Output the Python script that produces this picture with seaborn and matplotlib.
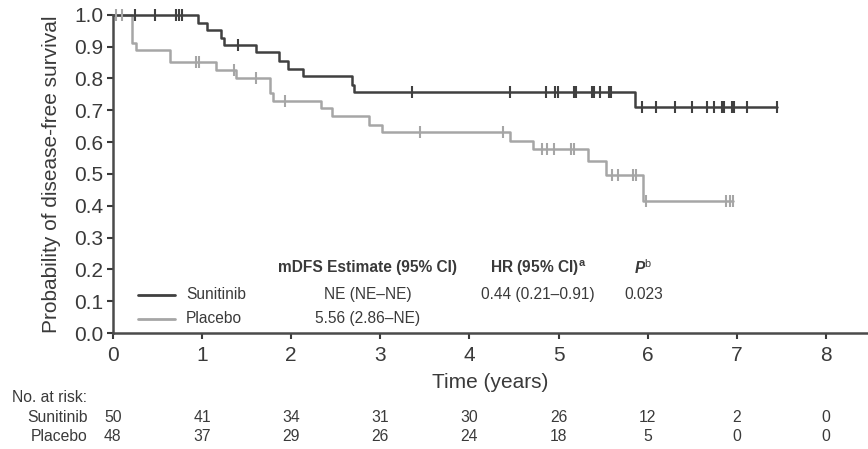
import numpy as np
import pandas as pd
import matplotlib
matplotlib.use('Agg')
import matplotlib.pyplot as plt
import matplotlib.transforms as mtransforms
import seaborn as sns

# step data: event time -> survival after the drop
sun_times = [0, 0.96, 1.06, 1.21, 1.25, 1.61, 1.86, 1.96, 2.13, 2.68, 2.71, 5.86, 7.45]
sun_surv = [1.0, 0.975, 0.952, 0.928, 0.906, 0.882, 0.856, 0.831, 0.807, 0.781, 0.759, 0.709, 0.709]
sun_cens = [0.25, 0.47, 0.71, 0.74, 0.78, 1.40, 3.36, 4.46, 4.86, 4.96, 4.99, 5.17, 5.20,
            5.37, 5.40, 5.46, 5.56, 5.59, 5.93, 6.09, 6.31, 6.50, 6.66, 6.74, 6.83, 6.85,
            6.94, 6.97, 7.11, 7.45]

pla_times = [0, 0.22, 0.26, 0.64, 1.16, 1.38, 1.76, 1.80, 2.34, 2.46, 2.87, 3.02, 4.46,
             4.71, 5.33, 5.53, 5.95, 6.96]
pla_surv = [1.0, 0.913, 0.89, 0.851, 0.826, 0.801, 0.753, 0.729, 0.707, 0.681, 0.655, 0.631,
            0.605, 0.577, 0.542, 0.496, 0.415, 0.415]
pla_cens = [0.03, 0.10, 0.93, 0.97, 1.36, 1.61, 1.93, 3.44, 4.38, 4.81, 4.87, 4.95, 5.14,
            5.17, 5.60, 5.67, 5.83, 5.87, 5.98, 6.88, 6.92, 6.96]

arms = ['Sunitinib', 'Placebo']
colors = {'Sunitinib': '#404040', 'Placebo': '#a6a6a6'}

risk_times = [0, 1, 2, 3, 4, 5, 6, 7, 8]
sun_risk = [50, 41, 34, 31, 30, 26, 12, 2, 0]
pla_risk = [48, 37, 29, 26, 24, 18, 5, 0, 0]

mdfs = ['NE (NE\u2013NE)', '5.56 (2.86\u2013NE)']
hr_text = '0.44 (0.21\u20130.91)'
p_text = '0.023'

sns.set_style('ticks')
plt.rcParams['font.family'] = ['Liberation Sans', 'DejaVu Sans']
plt.rcParams['mathtext.fontset'] = 'custom'
plt.rcParams['mathtext.rm'] = 'Liberation Sans'
plt.rcParams['mathtext.it'] = 'Liberation Sans:italic'
plt.rcParams['mathtext.bf'] = 'Liberation Sans:bold'
plt.rcParams['mathtext.bfit'] = 'Liberation Sans:bold:italic'

txt = '#3a3a3a'

curves = pd.concat([
    pd.DataFrame({'time': sun_times, 'surv': sun_surv, 'arm': 'Sunitinib'}),
    pd.DataFrame({'time': pla_times, 'surv': pla_surv, 'arm': 'Placebo'}),
], ignore_index=True)


def surv_at(times, surv, t):
    idx = np.searchsorted(times, t, side='right') - 1
    return np.array(surv)[idx]


cens = pd.concat([
    pd.DataFrame({'time': sun_cens, 'surv': surv_at(sun_times, sun_surv, sun_cens), 'arm': 'Sunitinib'}),
    pd.DataFrame({'time': pla_cens, 'surv': surv_at(pla_times, pla_surv, pla_cens), 'arm': 'Placebo'}),
], ignore_index=True)

fig = plt.figure(figsize=(8.68, 4.49), dpi=100)
ax = fig.add_axes([0.13, 0.258, 0.87, 0.709])

# placebo first so sunitinib sits on top
for arm in ['Placebo', 'Sunitinib']:
    sub = curves[curves['arm'] == arm]
    sns.lineplot(data=sub, x='time', y='surv', color=colors[arm], estimator=None,
                 drawstyle='steps-post', linewidth=1.8, ax=ax, clip_on=False, sort=False)
    csub = cens[cens['arm'] == arm]
    sns.scatterplot(data=csub, x='time', y='surv', color=colors[arm], marker='|', s=70,
                    linewidth=1.5, ax=ax, clip_on=False, zorder=3)

ax.set_xlim(0, 8.47)
ax.set_ylim(0, 1.0)
ax.set_xticks(range(0, 9))
ax.set_yticks(np.arange(0, 1.01, 0.1))
ax.set_yticklabels([f'{v:.1f}' for v in np.arange(0, 1.01, 0.1)])
ax.tick_params(axis='both', labelsize=15, colors=txt, length=4, width=1.5, pad=3)
ax.tick_params(axis='x', pad=5)
ax.set_xlabel('Time (years)', fontsize=15, color=txt, labelpad=6)
ax.set_ylabel('Probability of disease-free survival', fontsize=15, color=txt, labelpad=9)
sns.despine(ax=ax)
for s in ['left', 'bottom']:
    ax.spines[s].set_linewidth(1.8)
    ax.spines[s].set_color('#4a4a4a')

# in-plot legend table
fs = 11.2
ax.text(2.86, 0.205, 'mDFS Estimate (95% CI)', ha='center', va='center', fontsize=fs,
        fontweight='bold', color=txt)
ax.text(4.77, 0.205, r'HR (95% CI)$^{\mathregular{a}}$', ha='center', va='center', fontsize=fs,
        fontweight='bold', color=txt)
ax.text(5.95, 0.205, r'$\mathbfit{P}^{\mathregular{b}}$', ha='center', va='center',
        fontsize=fs, color=txt)
row_y = [0.12, 0.045]
for i, arm in enumerate(arms):
    ax.plot([0.28, 0.70], [row_y[i], row_y[i]], color=colors[arm], linewidth=2)
    ax.text(0.82, row_y[i], arm, ha='left', va='center', fontsize=fs, color=txt)
    ax.text(2.86, row_y[i], mdfs[i], ha='center', va='center', fontsize=fs, color=txt)
ax.text(4.77, row_y[0], hr_text, ha='center', va='center', fontsize=fs, color=txt)
ax.text(5.95, row_y[0], p_text, ha='center', va='center', fontsize=fs, color=txt)

# number at risk table
rfs = 11.3
trans = mtransforms.blended_transform_factory(ax.transData, fig.transFigure)
fig.text(12 / 868, 1 - 397 / 449, 'No. at risk:', ha='left', va='center', fontsize=rfs, color=txt)
for label, vals, ypx in [('Sunitinib', sun_risk, 418), ('Placebo', pla_risk, 436.5)]:
    fig.text(88 / 868, 1 - ypx / 449, label, ha='right', va='center', fontsize=rfs, color=txt)
    for t, v in zip(risk_times, vals):
        ax.text(t, 1 - ypx / 449, str(v), transform=trans, ha='center', va='center',
                fontsize=rfs, color=txt, clip_on=False)

plt.savefig('out.png', dpi=100)
